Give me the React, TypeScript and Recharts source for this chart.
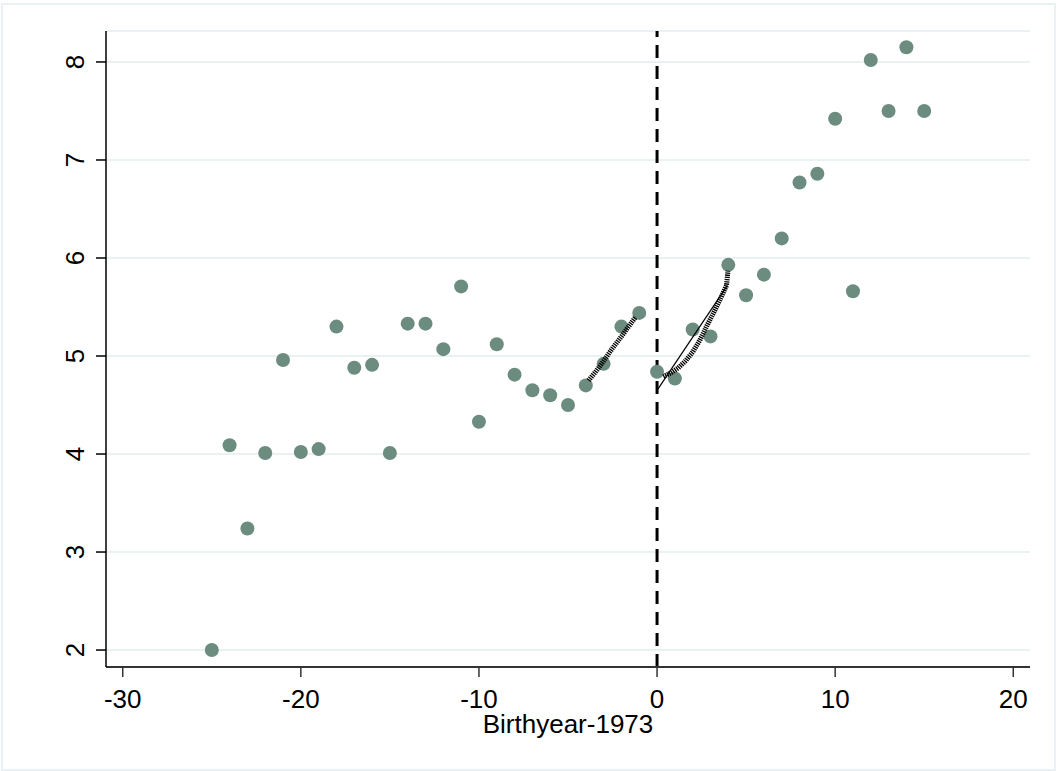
import React from "react";
import {
  ComposedChart,
  Scatter,
  XAxis,
  YAxis,
  CartesianGrid,
  ReferenceLine,
} from "recharts";

// cohort means by birth year relative to 1973
const birthOffset = [
  -25, -24, -23, -22, -21, -20, -19, -18, -17, -16, -15, -14, -13, -12, -11, -10,
  -9, -8, -7, -6, -5, -4, -3, -2, -1, 0, 1, 2, 3, 4, 5, 6, 7, 8, 9, 10, 11, 12,
  13, 14, 15,
];
const cohortMean = [
  2.0, 4.09, 3.24, 4.01, 4.96, 4.02, 4.05, 5.3, 4.88, 4.91, 4.01, 5.33, 5.33,
  5.07, 5.71, 4.33, 5.12, 4.81, 4.65, 4.6, 4.5, 4.7, 4.92, 5.3, 5.44, 4.84, 4.77,
  5.27, 5.2, 5.93, 5.62, 5.83, 6.2, 6.77, 6.86, 7.42, 5.66, 8.02, 7.5, 8.15, 7.5,
];

// local fits on each side of the cutoff
const leftFitX = [-3.85, -3.4, -3.0, -2.5, -2.0, -1.6, -1.2];
const leftFitY = [4.75, 4.85, 4.95, 5.08, 5.2, 5.3, 5.4];
const rightFitX = [0.35, 0.8, 1.2, 1.6, 2.0, 2.4, 2.8, 3.2, 3.6, 3.9, 3.98];
const rightFitY = [4.79, 4.83, 4.88, 4.95, 5.04, 5.16, 5.31, 5.45, 5.6, 5.72, 5.87];
// linear fit, right side
const linFitX = [0, 3.95];
const linFitY = [4.65, 5.72];

const xTicks = [-30, -20, -10, 0, 10, 20];
const yTicks = [2, 3, 4, 5, 6, 7, 8];

const points = birthOffset.map((x, i) => ({ x, y: cohortMean[i] }));
const leftFit = leftFitX.map((x, i) => ({ x, y: leftFitY[i] }));
const rightFit = rightFitX.map((x, i) => ({ x, y: rightFitY[i] }));
const linFit = linFitX.map((x, i) => ({ x, y: linFitY[i] }));

const FONT = "'Liberation Sans', Arial, sans-serif";

const XTick = (props: any) => {
  const { x, y, payload } = props;
  return (
    <text x={x} y={y + 29} textAnchor="middle" fontSize={26} fontFamily={FONT} fill="#000">
      {payload.value}
    </text>
  );
};

const YTick = (props: any) => {
  const { y, payload } = props;
  return (
    <g transform={`translate(84,${y}) rotate(-90)`}>
      <text x={0} y={0} textAnchor="middle" fontSize={26} fontFamily={FONT} fill="#000">
        {payload.value}
      </text>
    </g>
  );
};

const Dot = (props: any) => (
  <circle cx={props.cx} cy={props.cy} r={7} fill="#6d8c80" />
);

const NoDot = () => <g />;

const hatch = { stroke: "#000", strokeWidth: 5, strokeDasharray: "1.3 0.9" };

export default function App() {
  return (
    <div style={{ position: "absolute", left: 0, top: 0, width: 1057, height: 771, background: "#fff" }}>
      <div
        style={{
          position: "absolute",
          left: 1,
          top: 3,
          width: 1055,
          height: 768,
          border: "2px solid #eaf1f3",
          boxSizing: "border-box",
        }}
      />
      <div style={{ position: "absolute", left: 0, top: 0 }}>
        <ComposedChart
          width={1057}
          height={771}
          margin={{ top: 31, right: 27, bottom: 38, left: 46 }}
        >
          <CartesianGrid vertical={false} stroke="#eaf1f3" strokeWidth={2} />
          <XAxis
            type="number"
            dataKey="x"
            domain={[-30.94, 20.94]}
            allowDataOverflow
            ticks={xTicks}
            tick={<XTick />}
            tickSize={10}
            tickLine={{ stroke: "#333", strokeWidth: 1.5 }}
            axisLine={{ stroke: "#333", strokeWidth: 2 }}
            height={66}
            label={{
              value: "Birthyear-1973",
              position: "insideBottom",
              offset: 0,
              fontSize: 26,
              fontFamily: FONT,
              fill: "#000",
            }}
          />
          <YAxis
            type="number"
            dataKey="y"
            domain={[1.827, 8.316]}
            allowDataOverflow
            ticks={yTicks}
            tick={<YTick />}
            tickSize={10}
            tickLine={{ stroke: "#000", strokeWidth: 1.5 }}
            axisLine={{ stroke: "#000", strokeWidth: 1.5 }}
            width={60}
          />
          <ReferenceLine x={0} stroke="#000" strokeWidth={3} strokeDasharray="13 8" />
          <Scatter data={points} shape={<Dot />} isAnimationActive={false} />
          <Scatter
            data={linFit}
            line={{ stroke: "#000", strokeWidth: 1.2 }}
            shape={<NoDot />}
            isAnimationActive={false}
          />
          <Scatter data={leftFit} line={hatch} shape={<NoDot />} isAnimationActive={false} />
          <Scatter data={rightFit} line={hatch} shape={<NoDot />} isAnimationActive={false} />
        </ComposedChart>
      </div>
    </div>
  );
}
